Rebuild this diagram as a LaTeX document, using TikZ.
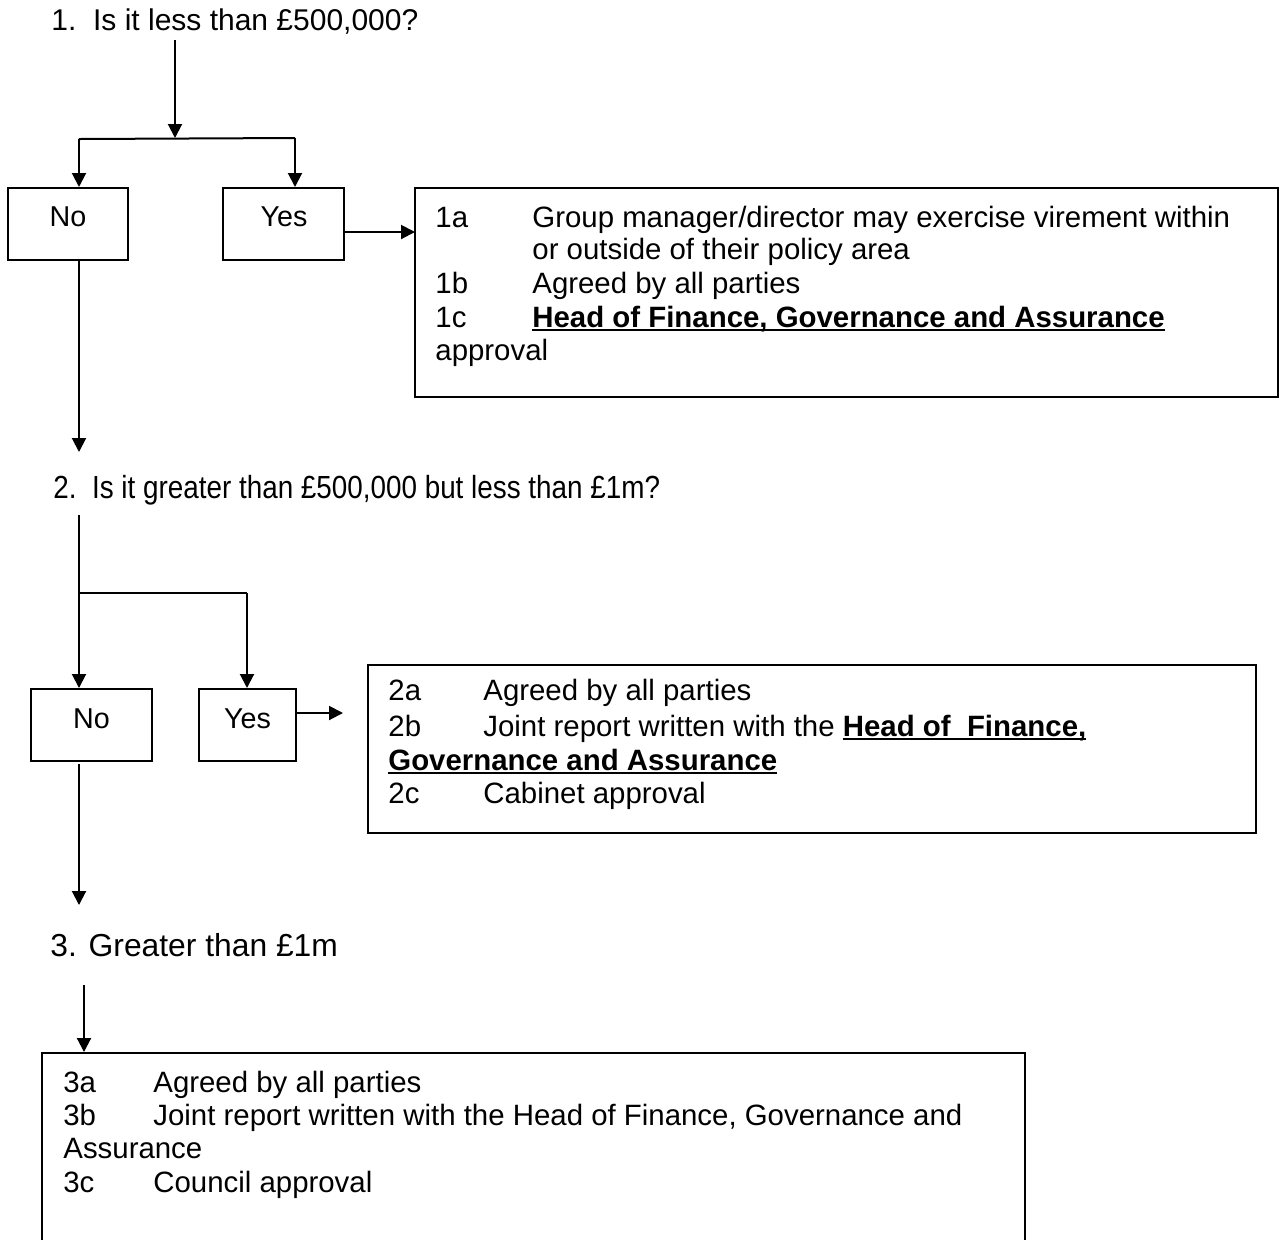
\documentclass[tikz,border=0pt]{standalone}
\usepackage{fontspec}
\setmainfont{Liberation Sans}
\newfontfamily\narrowfont[FakeStretch=0.87]{Liberation Sans}
\newcommand{\bul}[1]{\setbox0\hbox{\textbf{#1}}\rlap{\rule[-2.2pt]{\wd0}{1pt}}\box0}
\usetikzlibrary{arrows.meta,fit}
\tikzset{
  box/.style={draw, line width=1pt, inner sep=0pt},
  txt/.style={anchor=base west, inner sep=0pt, font=\fontsize{14.7}{16.5}\selectfont},
  ctr/.style={anchor=base, inner sep=0pt, font=\fontsize{14.35}{16.5}\selectfont},
  ln/.style={line width=1pt},
  arr/.style={line width=1pt, -{Triangle[length=7pt,width=7pt]}},
}
\begin{document}
\begin{tikzpicture}[x=0.5pt,y=-0.5pt]
\clip (0,0) rectangle (1280,1239);
\fill[white] (0,0) rectangle (1280,1239);

% ---------- Section 1 ----------
\node[txt, font=\fontsize{15}{17}\selectfont] (t1) at (51,30) {1.\ \ Is it less than £500,000?};
\coordinate (a1) at (175,40);
\coordinate (j1) at (175,138);
\coordinate (bl1) at (79,139);
\coordinate (br1) at (295,138);
\node[box, fit={(8,188)(128,260)}] (no1) {};
\node[box, fit={(223,188)(344,260)}] (yes1) {};
\node[box, fit={(415,188)(1278,397)}] (b1) {};
\node[ctr] (no1t) at (68,226) {No};
\node[ctr] (yes1t) at (284,226) {Yes};
\coordinate (ya1) at (344,232);
\coordinate (yb1) at (415,232);
\coordinate (d1) at (79,452);

\draw[arr] (a1) -- (j1);
\draw[ln] (bl1) -- (br1);
\draw[arr] (bl1) -- (bl1 |- no1.north);
\draw[arr] (br1) -- (br1 |- yes1.north);
\draw[arr] (ya1) -- (yb1);
\draw[arr] (bl1 |- no1.south) -- (d1);

\node[txt] (l1a) at (435,227) {1a};
\node[txt] (x1a) at (532,227) {Group manager/director may exercise virement within};
\node[txt] (x1a2) at (532,259) {or outside of their policy area};
\node[txt] (l1b) at (435,293) {1b};
\node[txt] (x1b) at (532,293) {Agreed by all parties};
\node[txt] (l1c) at (435,327) {1c};
\node[txt] (x1c) at (532,327) {\bul{Head of Finance, Governance and Assurance}};
\node[txt] (x1c2) at (435,360) {approval};

% ---------- Section 2 ----------
\node[txt, font=\narrowfont\fontsize{16}{18}\selectfont] (t2) at (53,498) {2.\ \ Is it greater than £500,000 but less than £1m?};
\coordinate (s2) at (79,515);
\coordinate (br2) at (79,593);
\coordinate (br2r) at (247,593);
\node[box, fit={(31,689)(152,761)}] (no2) {};
\node[box, fit={(199,689)(296,761)}] (yes2) {};
\node[box, fit={(368,665)(1256,833)}] (b2) {};
\node[ctr] (no2t) at (91.5,728) {No};
\node[ctr] (yes2t) at (247.5,728) {Yes};
\coordinate (ya2) at (296,713);
\coordinate (yb2) at (343,713);
\coordinate (n2a) at (79,764);
\coordinate (d2) at (79,905);

\draw[arr] (s2) -- (s2 |- no2.north);
\draw[ln] (br2) -- (br2r);
\draw[arr] (br2r) -- (br2r |- yes2.north);
\draw[arr] (ya2) -- (yb2);
\draw[arr] (n2a) -- (d2);

\node[txt] (l2a) at (388,700) {2a};
\node[txt] (x2a) at (483,700) {Agreed by all parties};
\node[txt] (l2b) at (388,736) {2b};
\node[txt] (x2b) at (483,736) {Joint report written with the \bul{Head of\ \ Finance,}};
\node[txt] (x2b2) at (388,770) {\bul{Governance and Assurance}};
\node[txt] (l2c) at (388,803) {2c};
\node[txt] (x2c) at (483,803) {Cabinet approval};

% ---------- Section 3 ----------
\node[txt, font=\fontsize{15.9}{18}\selectfont] (t3) at (50,956) {3. Greater than £1m};
\coordinate (s3) at (84,985);
\node[box, fit={(42,1053)(1025,1280)}] (b3) {};
\draw[arr] (s3) -- (s3 |- b3.north);

\node[txt] (l3a) at (63,1092) {3a};
\node[txt] (x3a) at (153,1092) {Agreed by all parties};
\node[txt] (l3b) at (63,1125) {3b};
\node[txt] (x3b) at (153,1125) {Joint report written with the Head of Finance, Governance and};
\node[txt] (x3b2) at (63,1158) {Assurance};
\node[txt] (l3c) at (63,1192) {3c};
\node[txt] (x3c) at (153,1192) {Council approval};
\end{tikzpicture}
\end{document}
